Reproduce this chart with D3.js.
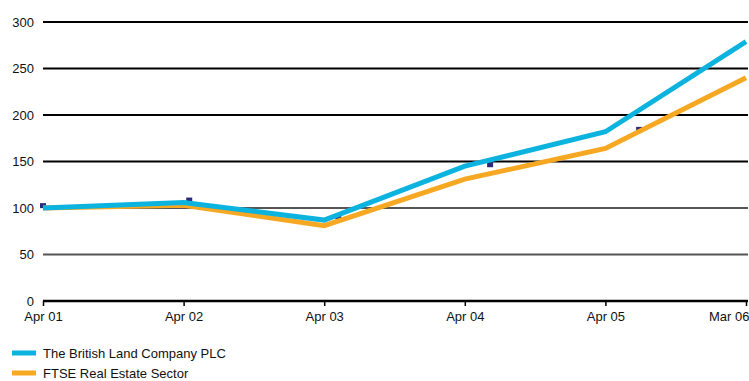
<!DOCTYPE html>
<html><head><meta charset="utf-8">
<script src="https://cdn.jsdelivr.net/npm/d3@7"></script>
<style>body{margin:0;background:#fff}svg{display:block;font-family:"Liberation Sans",Arial,sans-serif}</style>
</head><body><svg id="c" width="749" height="381"></svg>
<script>
const categories = ["Apr 01","Apr 02","Apr 03","Apr 04","Apr 05","Mar 06"];
const britishLand = [100,106,87,145,182,279];
const ftseRealEstate = [100,103,81,131,164,240];
const yTicks = [0,50,100,150,200,250,300];
const markerPos = [0,1.04,2.1,3.18,4.24];
const markerVals = [102,108,90,146,184];
const seriesNames = ["The British Land Company PLC","FTSE Real Estate Sector"];
const colors = ["#0cb3de","#f7a823"];

const svg = d3.select("#c");
const m = {l:43, r:3, t:22, b:80};
const W = 749, H = 381;
const x = d3.scaleLinear().domain([0,categories.length-1]).range([m.l, W-m.r]);
const y = d3.scaleLinear().domain([0,300]).range([H-m.b, m.t]);

svg.append("g").selectAll("line").data(yTicks.filter(d=>d>0)).join("line")
  .attr("x1",m.l).attr("x2",W-1).attr("y1",d=>y(d)).attr("y2",d=>y(d))
  .attr("stroke",d=>d>=150?"#000":"#555").attr("stroke-width",2);

svg.append("g").selectAll("text").data(yTicks).join("text")
  .attr("x",34).attr("y",d=>y(d)).attr("dy","0.35em").attr("text-anchor","end")
  .attr("font-size",13).attr("fill","#111").text(d=>d);

const xAxis = d3.axisBottom(x).tickValues(d3.range(categories.length))
  .tickFormat(i=>categories[i]).tickSize(5).tickPadding(6);
const gx = svg.append("g").attr("transform",`translate(0,${y(0)})`).call(xAxis);
gx.select(".domain").attr("stroke","#000").attr("stroke-width",2.5).attr("d",`M${m.l},0H${W-1}`);
gx.selectAll(".tick line").attr("stroke","#000").attr("stroke-width",1.5);
gx.selectAll(".tick text").attr("font-size",13).attr("fill","#111")
  .attr("font-family","Liberation Sans, Arial, sans-serif")
  .attr("text-anchor",(d,i)=>i===categories.length-1?"end":"middle")
  .attr("dx",(d,i)=>i===categories.length-1?"3":"0");

svg.append("g").selectAll("rect").data(markerPos).join("rect")
  .attr("x",(d)=>x(d)-3).attr("y",(d,i)=>y(markerVals[i])-3)
  .attr("width",6).attr("height",5).attr("fill","#2b2a78");

const line = d3.line().x((d,i)=>x(i)).y(d=>y(d));
[ftseRealEstate, britishLand].forEach((s,k)=>{
  svg.append("path").attr("d",line(s)).attr("fill","none")
    .attr("stroke",colors[1-k]).attr("stroke-width",5).attr("stroke-linejoin","miter");
});

const lg = svg.append("g");
seriesNames.forEach((n,i)=>{
  const yy = 353 + i*20;
  lg.append("line").attr("x1",12).attr("x2",36).attr("y1",yy).attr("y2",yy)
    .attr("stroke",colors[i]).attr("stroke-width",5);
  lg.append("text").attr("x",43).attr("y",yy).attr("dy","0.35em")
    .attr("font-size",13).attr("fill","#111").text(n);
});
</script></body></html>
